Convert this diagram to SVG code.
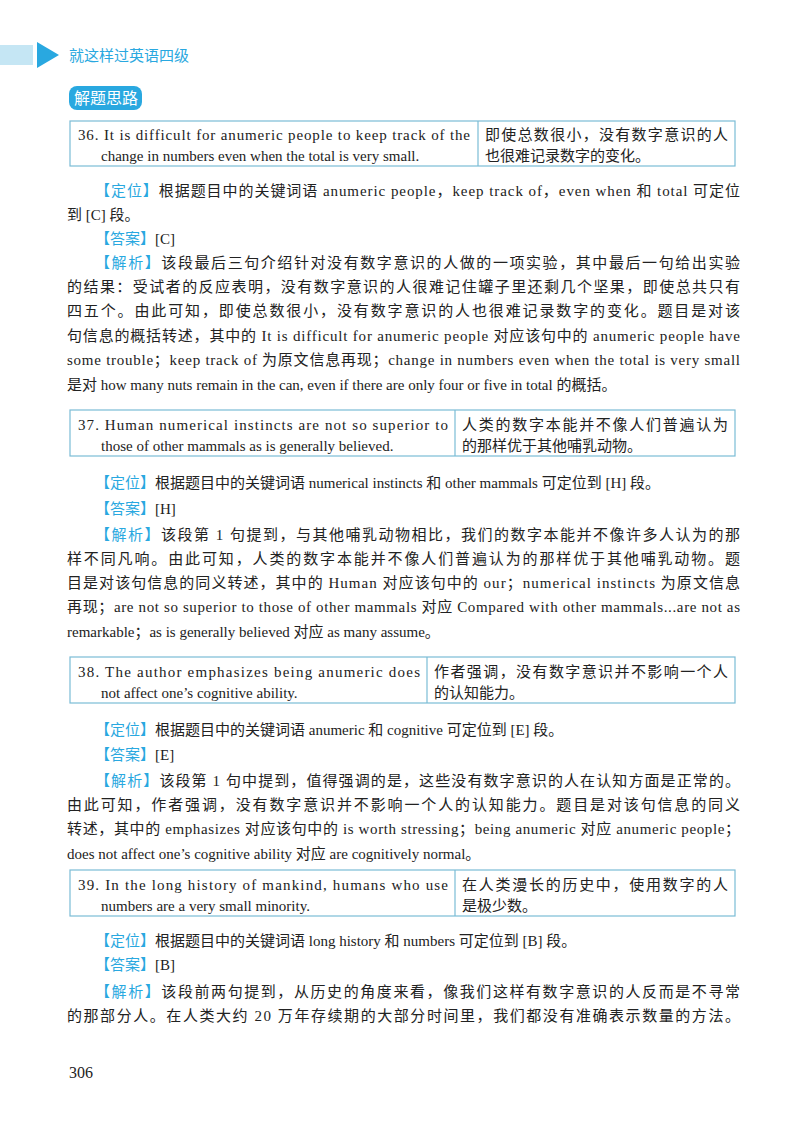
<svg xmlns="http://www.w3.org/2000/svg" width="800" height="1131" viewBox="0 0 800 1131">
<style>
text{font-family:"Liberation Serif","Noto Sans CJK SC",serif;font-size:15px;fill:#222}
.b{fill:#29a8e0;font-family:"Noto Sans CJK SC",sans-serif}
.box{fill:none;stroke:#7bbcd6;stroke-width:1.2}
</style>
<rect width="800" height="1131" fill="#fff"/>
<g id="header">
<rect x="0" y="45" width="33" height="20" fill="#c5e6f4"/>
<polygon points="37,42 59,55 37,68" fill="#29a8e0"/>
<text x="69" y="61" class="b" style="font-size:15px">就这样过英语四级</text>
<rect x="69" y="86" width="73" height="24" rx="8" fill="#29a8e0"/>
<text x="74" y="104" style="fill:#fff;font-family:'Noto Sans CJK SC',sans-serif;font-size:16px">解题思路</text>
</g>
<g id="q36">
<rect class="box" x="70" y="121" width="665" height="45"/><line class="box" x1="478" y1="121" x2="478" y2="166"/>
<text x="78" y="140" textLength="392" lengthAdjust="spacing">36. It is difficult for anumeric people to keep track of the</text>
<text x="101" y="161">change in numbers even when the total is very small.</text>
<text x="485" y="140" textLength="243" lengthAdjust="spacing">即使总数很小，没有数字意识的人</text>
<text x="485" y="161">也很难记录数字的变化。</text>
</g>
<g id="a36">
<text x="95" y="196" textLength="645" lengthAdjust="spacing"><tspan class="b">【定位】</tspan>根据题目中的关键词语 anumeric people，keep track of，even when 和 total 可定位</text>
<text x="67" y="220">到 [C] 段。</text>
<text x="95" y="244"><tspan class="b">【答案】</tspan>[C]</text>
<text x="95" y="268" textLength="645" lengthAdjust="spacing"><tspan class="b">【解析】</tspan>该段最后三句介绍针对没有数字意识的人做的一项实验，其中最后一句给出实验</text>
<text x="67" y="292" textLength="673" lengthAdjust="spacing">的结果：受试者的反应表明，没有数字意识的人很难记住罐子里还剩几个坚果，即使总共只有</text>
<text x="67" y="316" textLength="673" lengthAdjust="spacing">四五个。由此可知，即使总数很小，没有数字意识的人也很难记录数字的变化。题目是对该</text>
<text x="67" y="341" textLength="673" lengthAdjust="spacing">句信息的概括转述，其中的 It is difficult for anumeric people 对应该句中的 anumeric people have</text>
<text x="67" y="365" textLength="673" lengthAdjust="spacing">some trouble；keep track of 为原文信息再现；change in numbers even when the total is very small</text>
<text x="67" y="390">是对 how many nuts remain in the can, even if there are only four or five in total 的概括。</text>
</g>
<g id="q37">
<rect class="box" x="70" y="410" width="665" height="46"/><line class="box" x1="455" y1="410" x2="455" y2="456"/>
<text x="78" y="430" textLength="370" lengthAdjust="spacing">37. Human numerical instincts are not so superior to</text>
<text x="101" y="451">those of other mammals as is generally believed.</text>
<text x="462" y="430" textLength="266" lengthAdjust="spacing">人类的数字本能并不像人们普遍认为</text>
<text x="462" y="451">的那样优于其他哺乳动物。</text>
</g>
<g id="a37">
<text x="95" y="488"><tspan class="b">【定位】</tspan>根据题目中的关键词语 numerical instincts 和 other mammals 可定位到 [H] 段。</text>
<text x="95" y="514"><tspan class="b">【答案】</tspan>[H]</text>
<text x="95" y="540" textLength="645" lengthAdjust="spacing"><tspan class="b">【解析】</tspan>该段第 1 句提到，与其他哺乳动物相比，我们的数字本能并不像许多人认为的那</text>
<text x="67" y="564" textLength="673" lengthAdjust="spacing">样不同凡响。由此可知，人类的数字本能并不像人们普遍认为的那样优于其他哺乳动物。题</text>
<text x="67" y="588" textLength="673" lengthAdjust="spacing">目是对该句信息的同义转述，其中的 Human 对应该句中的 our；numerical instincts 为原文信息</text>
<text x="67" y="612" textLength="673" lengthAdjust="spacing">再现；are not so superior to those of other mammals 对应 Compared with other mammals...are not as</text>
<text x="67" y="637">remarkable；as is generally believed 对应 as many assume。</text>
</g>
<g id="q38">
<rect class="box" x="70" y="657" width="665" height="46"/><line class="box" x1="427" y1="657" x2="427" y2="703"/>
<text x="78" y="677" textLength="342" lengthAdjust="spacing">38. The author emphasizes being anumeric does</text>
<text x="101" y="698">not affect one’s cognitive ability.</text>
<text x="434" y="677" textLength="294" lengthAdjust="spacing">作者强调，没有数字意识并不影响一个人</text>
<text x="434" y="698">的认知能力。</text>
</g>
<g id="a38">
<text x="95" y="735"><tspan class="b">【定位】</tspan>根据题目中的关键词语 anumeric 和 cognitive 可定位到 [E] 段。</text>
<text x="95" y="760"><tspan class="b">【答案】</tspan>[E]</text>
<text x="95" y="786" textLength="645" lengthAdjust="spacing"><tspan class="b">【解析】</tspan>该段第 1 句中提到，值得强调的是，这些没有数字意识的人在认知方面是正常的。</text>
<text x="67" y="810" textLength="673" lengthAdjust="spacing">由此可知，作者强调，没有数字意识并不影响一个人的认知能力。题目是对该句信息的同义</text>
<text x="67" y="834" textLength="673" lengthAdjust="spacing">转述，其中的 emphasizes 对应该句中的 is worth stressing；being anumeric 对应 anumeric people；</text>
<text x="67" y="859">does not affect one’s cognitive ability 对应 are cognitively normal。</text>
</g>
<g id="q39">
<rect class="box" x="70" y="870" width="665" height="46"/><line class="box" x1="455" y1="870" x2="455" y2="916"/>
<text x="78" y="890" textLength="370" lengthAdjust="spacing">39. In the long history of mankind, humans who use</text>
<text x="101" y="911">numbers are a very small minority.</text>
<text x="462" y="890" textLength="266" lengthAdjust="spacing">在人类漫长的历史中，使用数字的人</text>
<text x="462" y="911">是极少数。</text>
</g>
<g id="a39">
<text x="95" y="946"><tspan class="b">【定位】</tspan>根据题目中的关键词语 long history 和 numbers 可定位到 [B] 段。</text>
<text x="95" y="970"><tspan class="b">【答案】</tspan>[B]</text>
<text x="95" y="997" textLength="645" lengthAdjust="spacing"><tspan class="b">【解析】</tspan>该段前两句提到，从历史的角度来看，像我们这样有数字意识的人反而是不寻常</text>
<text x="67" y="1021" textLength="673" lengthAdjust="spacing">的那部分人。在人类大约 20 万年存续期的大部分时间里，我们都没有准确表示数量的方法。</text>
</g>
<text x="69" y="1078" style="font-size:16px">306</text>
</svg>
